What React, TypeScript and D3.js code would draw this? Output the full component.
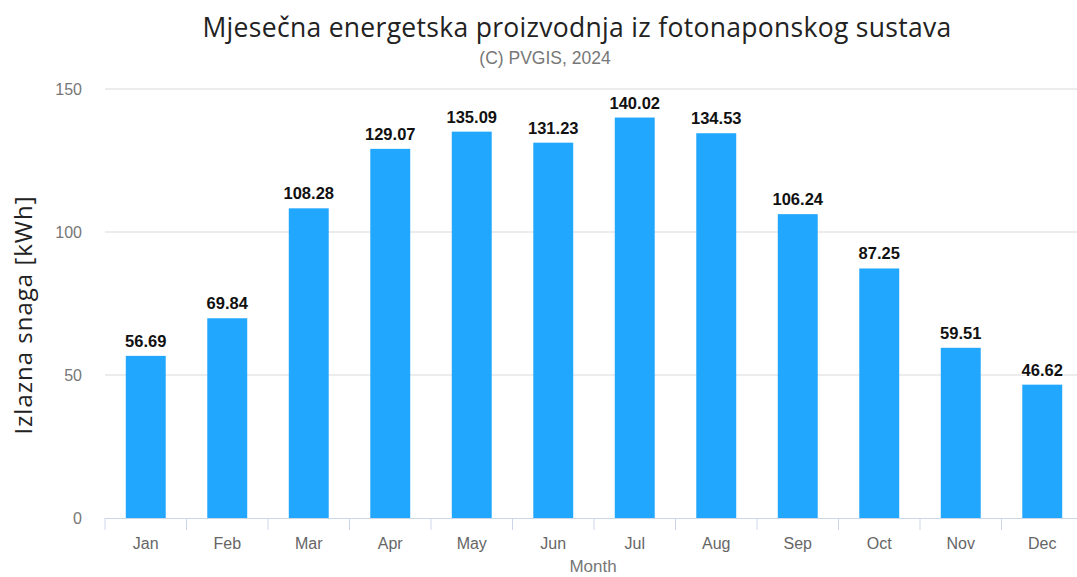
import * as d3 from "d3";
import React from "react";

const months = ["Jan", "Feb", "Mar", "Apr", "May", "Jun", "Jul", "Aug", "Sep", "Oct", "Nov", "Dec"];
const output = [56.69, 69.84, 108.28, 129.07, 135.09, 131.23, 140.02, 134.53, 106.24, 87.25, 59.51, 46.62];
const yTicks = [0, 50, 100, 150];

const W = 1077,
	H = 577;
const margin = { top: 89, right: -6, bottom: 59, left: 105 };

const App = () => {
	const x = d3
		.scaleBand()
		.domain(months)
		.range([margin.left, W - margin.right])
		.paddingInner(0)
		.paddingOuter(0);
	const y = d3
		.scaleLinear()
		.domain([0, 150])
		.range([H - margin.bottom, margin.top]);
	const barW = x.bandwidth() * 0.49;
	const base = y(0);

	return (
		<svg
			width={W}
			height={H}
			style={{ position: "absolute", left: 0, top: 0, background: "#fff" }}
			fontFamily="'Liberation Sans', Arial, sans-serif"
		>
			<text
				x={577}
				y={37}
				textAnchor="middle"
				fontFamily="'Open Sans', sans-serif"
				fontSize={26.5}
				letterSpacing={0.3}
				fill="#222"
			>
				Mjesečna energetska proizvodnja iz fotonaponskog sustava
			</text>
			<text x={545} y={64} textAnchor="middle" fontSize={17.5} fill="#777">
				(C) PVGIS, 2024
			</text>

			{yTicks.map((t) => (
				<g key={t}>
					{t > 0 && (
						<line x1={margin.left} x2={W} y1={y(t)} y2={y(t)} stroke="#e6e6e6" strokeWidth={1.5} />
					)}
					<text x={82} y={y(t) + 6} textAnchor="end" fontSize={16} fill="#777">
						{t}
					</text>
				</g>
			))}

			<text
				transform={`translate(32,315) rotate(-90)`}
				textAnchor="middle"
				fontFamily="'Open Sans', sans-serif"
				fontSize={24}
				letterSpacing={1}
				fill="#222"
			>
				Izlazna snaga [kWh]
			</text>

			{output.map((v, i) => {
				const cx = x(months[i])! + x.bandwidth() / 2;
				return (
					<g key={months[i]}>
						<rect x={cx - barW / 2} y={y(v)} width={barW} height={base - y(v)} fill="#22a7fe" />
						<text
							x={cx}
							y={y(v) - 9}
							textAnchor="middle"
							fontSize={16.5}
							fontWeight="bold"
							fill="#111"
							stroke="#fff"
							strokeWidth={2}
							paintOrder="stroke"
						>
							{v.toFixed(2)}
						</text>
					</g>
				);
			})}

			<line x1={margin.left} x2={W} y1={base + 0.5} y2={base + 0.5} stroke="#ccd6eb" />
			{months.map((m) => (
				<g key={m}>
					<line x1={x(m)!} x2={x(m)!} y1={base} y2={base + 12} stroke="#ccd6eb" />
					<text x={x(m)! + x.bandwidth() / 2} y={base + 31} textAnchor="middle" fontSize={16} fill="#666">
						{m}
					</text>
				</g>
			))}
			<text x={593} y={572} textAnchor="middle" fontSize={17} fill="#777">
				Month
			</text>
		</svg>
	);
};

export default App;
